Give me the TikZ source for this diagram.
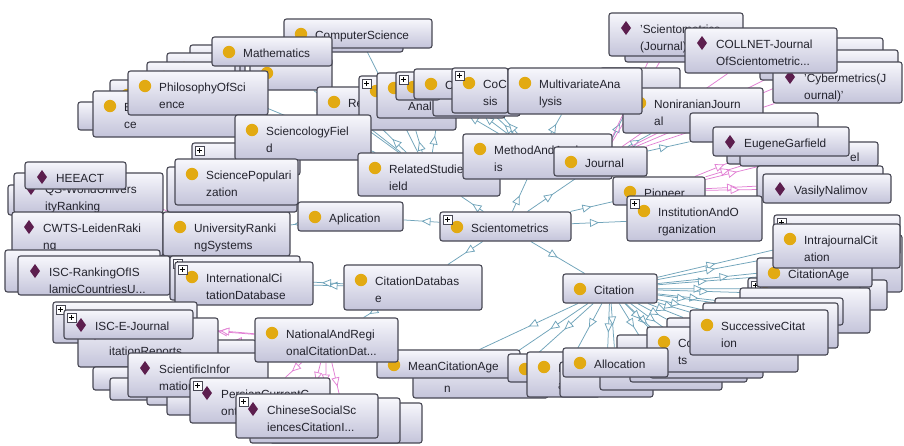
\documentclass[tikz,border=0pt]{standalone}
\usepackage{fontspec}
\setmainfont{Liberation Sans}
\usetikzlibrary{fit,arrows.meta,decorations.markings}
\pgfdeclarelayer{bg}
\pgfsetlayers{bg,main}
\definecolor{bxline}{RGB}{72,72,84}
\definecolor{bxtop}{RGB}{247,247,252}
\definecolor{bxbot}{RGB}{196,196,218}
\definecolor{clsdot}{RGB}{226,170,18}
\definecolor{inddia}{RGB}{92,30,78}
\definecolor{subedge}{RGB}{112,164,186}
\definecolor{indedge}{RGB}{226,128,212}
\definecolor{txt}{RGB}{35,35,45}
\tikzset{
  bx/.style={draw=bxline, line width=1.1pt, rounded corners=2.5pt, top color=bxtop, bottom color=bxbot, inner sep=0pt},
  lbl/.style={anchor=base west, inner sep=0pt, text=txt, font=\fontsize{11.8}{14}\selectfont},
  subarc/.style={color=subedge, line width=0.75pt, postaction={decorate},
    decoration={markings, mark=at position 0.5 with {\arrow{Triangle[length=9pt, width=8pt, fill=white]}}}},
  indarc/.style={color=indedge, line width=0.75pt, postaction={decorate},
    decoration={markings, mark=at position 0.6 with {\arrow{Triangle[length=9pt, width=8pt, fill=white]}}}},
}
\newcommand\ogbox[8]{%
  \node[bx, fit={(#2,#3)(#4,#5)}] (#1) {};
  \if c#6\fill[clsdot] (#2+17,#3+15) circle[radius=6.2pt];\fi
  \if d#6\fill[inddia] (#2+17,#3+8) -- (#2+22,#3+15) -- (#2+17,#3+22) -- (#2+12,#3+15) -- cycle;\fi
  \node[lbl] (#1-t1) at (#2+31,#3+20) {#7};
  \node[lbl] (#1-t2) at (#2+31,#3+37) {#8};
}
\newcommand\ogplus[2]{%
  \draw[bxline, line width=0.6pt, fill=white] (#1,#2) rectangle (#1+9,#2+9);
  \draw[black, line width=0.8pt] (#1+2,#2+4.5) -- (#1+7,#2+4.5) (#1+4.5,#2+2) -- (#1+4.5,#2+7);
}
\begin{document}
\begin{tikzpicture}[x=1pt,y=-1pt]
\useasboundingbox (0,0) rectangle (904,445);
\begin{pgfonlayer}{bg}
\fill[white] (0,0) rectangle (904,445);
\end{pgfonlayer}
% ---- top-left cluster
\ogbox{l5}{190}{45}{245}{75}{c}{}{}
\ogbox{l4}{167}{53}{240}{82}{c}{}{}
\ogbox{l3}{147}{62}{235}{92}{c}{}{}
\ogbox{l2}{110}{80}{230}{108}{c}{}{}
\ogbox{l0}{78}{102}{140}{130}{n}{}{}
\ogbox{l1}{93}{91}{250}{137}{c}{E}{ce}
\ogbox{csb}{290}{24}{403}{52}{n}{}{}
\ogbox{cs}{284}{19}{432}{48}{c}{ComputerScience}{}
\ogbox{mb}{250}{58}{332}{90}{c}{}{}
\ogbox{math}{212}{37}{332}{66}{c}{Mathematics}{}
\ogbox{phil}{128}{71}{268}{115}{c}{PhilosophyOfSci}{ence}
\ogbox{re}{317}{87}{400}{125}{c}{Re}{}
\ogbox{pb1}{359}{76}{456}{130}{c}{}{}\ogplus{362}{79}
\ogbox{anal}{377}{73}{505}{118}{c}{}{Anal}
\ogbox{btw}{433}{80}{520}{116}{n}{}{}
\ogbox{pb2}{396}{72}{440}{100}{c}{}{}\ogplus{399}{75}
\ogbox{cbx}{414}{69}{470}{99}{c}{C}{}
\ogbox{coc}{452}{68}{508}{113}{c}{CoC}{sis}\ogplus{455}{71}
\ogbox{spback}{192}{143}{300}{175}{n}{}{}\ogplus{195}{146}
\ogbox{sci}{235}{115}{371}{160}{c}{SciencologyFiel}{d}
% ---- middle
\ogbox{rsf}{358}{153}{500}{196}{c}{RelatedStudiesF}{ield}
\ogbox{maa}{463}{134}{612}{179}{c}{MethodAndAnalys}{is}
\ogbox{jour}{554}{147}{647}{176}{c}{Journal}{}
% ---- top-right
\ogbox{jb}{600}{68}{680}{100}{n}{}{}
\ogbox{non}{623}{88}{763}{133}{c}{NoniranianJourn}{al}
\ogbox{mva}{508}{68}{642}{114}{c}{MultivariateAna}{lysis}
\ogbox{sjb}{625}{22}{690}{62}{n}{}{}
\ogbox{sj}{609}{13}{743}{56}{d}{'Scientometrics}{(Journal)'}
\ogbox{cl1}{750}{38}{883}{70}{n}{}{}
\ogbox{cl2}{760}{50}{898}{80}{n}{}{}
\ogbox{cyb}{773}{62}{902}{103}{d}{'Cybermetrics(J}{ournal)'}
\ogbox{coll}{685}{28}{837}{73}{d}{COLLNET-Journal}{OfScientometric...}
% ---- pioneers
\ogbox{eg1}{690}{113}{818}{142}{n}{}{}
\ogbox{vb1}{727}{140}{847}{164}{n}{}{}
\ogbox{elb}{740}{142}{878}{166}{n}{}{}
\ogbox{eg}{713}{127}{849}{156}{d}{EugeneGarfield}{}
\node[lbl] (elt) at (850,161) {el};
\ogbox{vb2}{757}{166}{883}{200}{n}{}{}
\ogbox{vn}{763}{174}{891}{203}{d}{VasilyNalimov}{}
\ogbox{pio}{613}{177}{705}{205}{c}{Pioneer}{}
\ogbox{inst}{627}{196}{762}{241}{c}{InstitutionAndO}{rganization}\ogplus{630}{199}
% ---- right middle
\ogbox{rr1}{800}{235}{902}{292}{n}{}{}
\ogbox{rs1}{760}{280}{887}{310}{n}{}{}
\ogbox{rb1}{748}{278}{860}{300}{c}{}{}\ogplus{751}{281}
\ogbox{cage}{757}{258}{872}{287}{c}{CitationAge}{}
\ogbox{ib}{774}{215}{900}{255}{c}{}{}\ogplus{777}{218}
\ogbox{intra}{773}{224}{900}{268}{c}{IntrajournalCit}{ation}
% ---- left
\ogbox{qsb}{8}{185}{150}{215}{n}{}{}
\ogbox{qs}{14}{173}{163}{213}{d}{QS-WorldUnivers}{ityRanking}
\ogbox{heeact}{25}{162}{126}{189}{d}{HEEACT}{}
\ogbox{cwts}{12}{212}{163}{256}{d}{CWTS-LeidenRaki}{ng}
\ogbox{uni}{163}{212}{290}{256}{c}{UniversityRanki}{ngSystems}
\ogbox{iscrb}{5}{250}{160}{292}{n}{}{}
\ogbox{iscr}{18}{256}{170}{295}{d}{ISC-RankingOfIS}{lamicCountriesU...}
\ogbox{spb}{167}{167}{297}{212}{n}{}{}
\ogbox{sp}{175}{159}{298}{205}{c}{SciencePopulari}{zation}
\ogbox{icb}{170}{256}{300}{300}{n}{}{}\ogplus{173}{259}
\ogbox{intl}{175}{262}{313}{305}{c}{InternationalCi}{tationDatabase}\ogplus{178}{265}
% ---- centre
\ogbox{apl}{298}{202}{403}{231}{c}{Aplication}{}
\ogbox{sm}{440}{212}{571}{241}{c}{Scientometrics}{}\ogplus{443}{215}
\ogbox{cdb}{344}{265}{482}{310}{c}{CitationDatabas}{e}
\ogbox{cit}{563}{274}{657}{303}{c}{Citation}{}
% ---- bottom-left
\ogbox{ij0}{53}{302}{197}{343}{n}{}{}\ogplus{56}{305}
\ogbox{irb}{150}{340}{256}{362}{n}{}{}
\ogbox{ir}{78}{318}{218}{367}{d}{}{itationReports}
\ogbox{ije}{64}{310}{193}{339}{d}{ISC-E-Journal}{}\ogplus{67}{313}
\ogbox{sb1}{93}{367}{200}{390}{n}{}{}
\ogbox{sb2}{110}{378}{210}{400}{n}{}{}
\ogbox{sb3}{147}{385}{230}{405}{n}{}{}
\ogbox{sb4}{167}{392}{240}{415}{n}{}{}
\ogbox{sinf}{128}{353}{268}{397}{d}{ScientificInfor}{mation}
\ogbox{pcc}{190}{378}{330}{423}{d}{PersianCurrentC}{ontents}\ogplus{193}{381}
\ogbox{cb2}{270}{403}{422}{443}{n}{}{}
\ogbox{cb1}{250}{398}{400}{443}{n}{}{}
\ogbox{csci}{236}{394}{378}{438}{d}{ChineseSocialSc}{iencesCitationI...}\ogplus{239}{397}
% ---- bottom centre / right
\ogbox{nbx}{413}{355}{548}{398}{c}{}{n}
\ogbox{mca}{377}{350}{520}{378}{c}{MeanCitationAge}{}
\ogbox{m2x}{508}{354}{535}{382}{c}{}{}
\ogbox{iat}{527}{352}{600}{397}{c}{I}{ation}
\ogbox{ab1}{560}{362}{653}{397}{n}{}{}
\ogbox{ab2}{600}{352}{722}{390}{n}{}{}
\ogbox{ab3}{630}{345}{747}{382}{n}{}{}
\ogbox{ab4}{650}{340}{763}{378}{n}{}{}
\ogbox{rs6}{667}{318}{770}{345}{n}{}{}
\ogbox{rs5}{617}{335}{720}{360}{n}{}{}
\ogbox{rs2}{740}{288}{870}{333}{n}{}{}
\ogbox{rs3}{715}{298}{843}{325}{n}{}{}
\ogbox{rs4}{703}{303}{838}{348}{n}{}{}
\ogbox{cots}{647}{327}{798}{372}{c}{Co}{ts}
\ogbox{alloc}{563}{348}{668}{377}{c}{Allocation}{}
\ogbox{succ}{690}{310}{828}{355}{c}{SuccessiveCitat}{ion}
\ogbox{nat}{255}{318}{398}{362}{c}{NationalAndRegi}{onalCitationDat...}
% ---- connectors
\begin{pgfonlayer}{bg}
\foreach \c in {apl,rsf,maa,jour,pio,inst,cdb,cit} \draw[subarc] (sm) -- (\c);
\foreach \c in {cs,math,mb,re,pb1,anal,phil,l1,l3} \draw[subarc] (rsf) -- (\c);
\foreach \c in {pb2,cbx,btw,coc,mva} \draw[subarc] (maa) -- (\c);
\foreach \c in {non,jb,eg1} \draw[subarc] (jour) -- (\c);
\draw[subarc] (apl) -- (uni);
\foreach \c in {intl,icb,nat} \draw[subarc] (cdb) -- (\c);
\foreach \c in {mca,nbx,m2x,iat,alloc,ab1,ab2,ab3,ab4,rs5,rs6,cots,succ,rs2,rs3,rs4,rs1,rb1,cage,ib,intra,rr1} \draw[subarc] (cit) -- (\c);
\foreach \c in {sj,sjb,coll,cl1,cl2,cyb} \draw[indarc] (jour) -- (\c);
\foreach \c in {eg,vb1,elb,vb2,vn} \draw[indarc] (pio) -- (\c);
\foreach \c in {ije,ij0,ir,sinf,pcc,csci,cb1,cb2} \draw[indarc] (nat) -- (\c);
\foreach \c in {heeact,qs,iscr} \draw[indarc] (uni) -- (\c);
\end{pgfonlayer}
\end{tikzpicture}
\end{document}
